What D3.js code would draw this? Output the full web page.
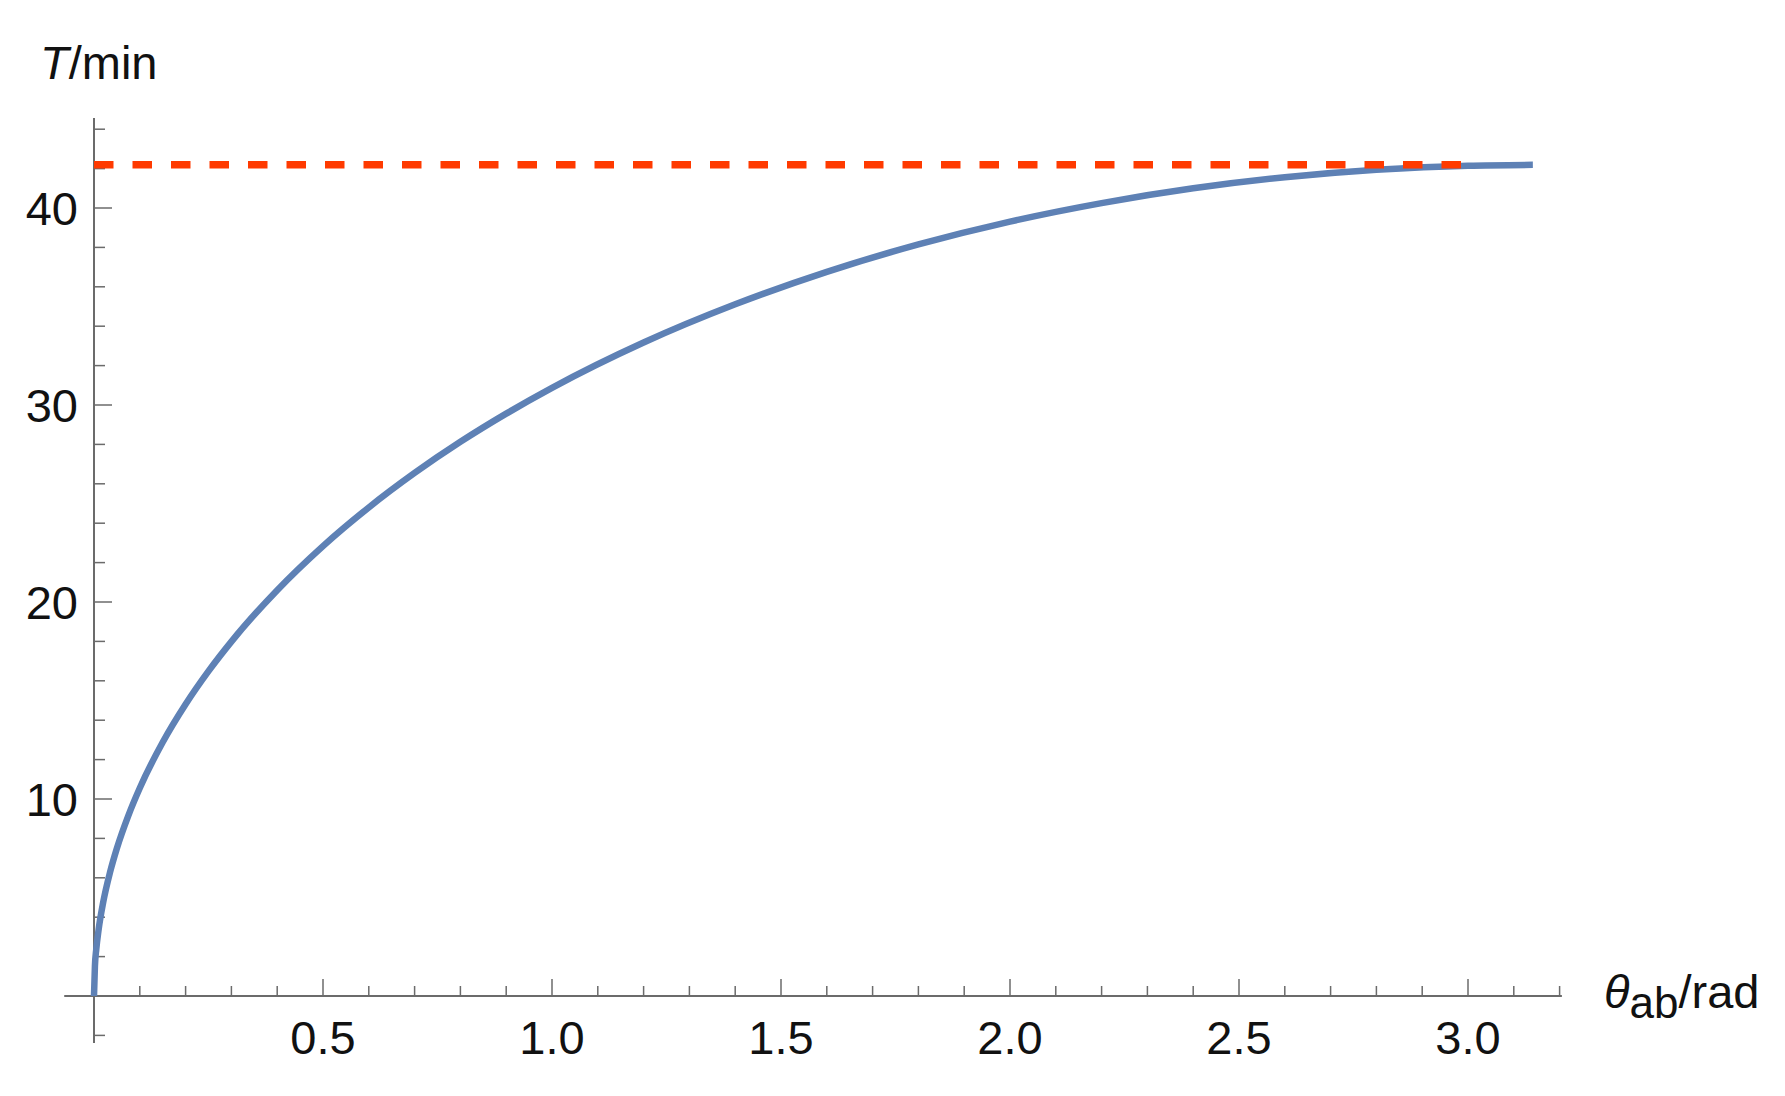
<!DOCTYPE html>
<html><head><meta charset="utf-8">
<script src="https://cdn.jsdelivr.net/npm/d3@7"></script>
<style>html,body{margin:0;padding:0;background:#fff;}svg{display:block;}</style>
</head><body>
<svg id="c" width="1785" height="1096"></svg>
<script>
// Data
const theta = [0, 0.002, 0.005, 0.01, 0.02, 0.035, 0.05, 0.075, 0.1, 0.15, 0.2, 0.25, 0.3, 0.4, 0.5, 0.6, 0.7, 0.8, 0.9, 1.0, 1.2, 1.4, 1.6, 1.8, 2.0, 2.2, 2.4, 2.6, 2.8, 3.0, 3.1416];
const T     = [0, 1.51, 2.38, 3.36, 4.75, 6.28, 7.50, 9.16, 10.56, 12.88, 14.81, 16.49, 17.99, 20.60, 22.84, 24.80, 26.55, 28.13, 29.56, 30.87, 33.17, 35.11, 36.76, 38.15, 39.31, 40.25, 41.00, 41.56, 41.94, 42.15, 42.19];
const limitT = 42.2;
const limitTheta = [0, 3.0];
const xMajor = [0.5, 1.0, 1.5, 2.0, 2.5, 3.0];
const xMajorLabels = ["0.5", "1.0", "1.5", "2.0", "2.5", "3.0"];
const yMajor = [10, 20, 30, 40];
const yMajorLabels = ["10", "20", "30", "40"];
const xExtent = [-0.065, 3.205];
const yExtent = [-2.39, 44.57];

const svg = d3.select("#c");
const x = d3.scaleLinear().domain([0, 3]).range([94, 1468]);
const y = d3.scaleLinear().domain([0, 40]).range([996, 208]);

const axisColor = "#6b6b6b";
const font = "'Liberation Sans', Arial, sans-serif";

const xMinor = d3.range(1, 33).map(i => i / 10).filter(v => Math.abs(v * 2 - Math.round(v * 2)) > 1e-6);
const yMinor = d3.range(-2, 45, 2).filter(v => v % 10 !== 0);

// axes lines
svg.append("line").attr("x1", x(xExtent[0])).attr("x2", x(xExtent[1]))
  .attr("y1", y(0)).attr("y2", y(0)).attr("stroke", axisColor).attr("stroke-width", 2);
svg.append("line").attr("x1", x(0)).attr("x2", x(0))
  .attr("y1", y(yExtent[0])).attr("y2", y(yExtent[1])).attr("stroke", axisColor).attr("stroke-width", 2);

// x ticks
svg.append("g").selectAll("line").data(xMinor).join("line")
  .attr("x1", d => x(d)).attr("x2", d => x(d)).attr("y1", y(0)).attr("y2", y(0) - 10)
  .attr("stroke", axisColor).attr("stroke-width", 1.5);
svg.append("g").selectAll("line").data(xMajor).join("line")
  .attr("x1", d => x(d)).attr("x2", d => x(d)).attr("y1", y(0)).attr("y2", y(0) - 17)
  .attr("stroke", axisColor).attr("stroke-width", 1.5);
svg.append("g").selectAll("text").data(xMajor).join("text")
  .attr("x", d => x(d)).attr("y", y(0) + 58).attr("text-anchor", "middle")
  .attr("font-family", font).attr("font-size", 47).attr("fill", "#111")
  .text((d, i) => xMajorLabels[i]);

// y ticks
svg.append("g").selectAll("line").data(yMinor).join("line")
  .attr("x1", x(0)).attr("x2", x(0) + 11).attr("y1", d => y(d)).attr("y2", d => y(d))
  .attr("stroke", axisColor).attr("stroke-width", 1.5);
svg.append("g").selectAll("line").data(yMajor).join("line")
  .attr("x1", x(0)).attr("x2", x(0) + 18).attr("y1", d => y(d)).attr("y2", d => y(d))
  .attr("stroke", axisColor).attr("stroke-width", 1.5);
svg.append("g").selectAll("text").data(yMajor).join("text")
  .attr("x", 78).attr("y", d => y(d) + 17).attr("text-anchor", "end")
  .attr("font-family", font).attr("font-size", 47).attr("fill", "#111")
  .text((d, i) => yMajorLabels[i]);

// curve
const pts = theta.map((t, i) => [t, T[i]]);
svg.append("path").datum(pts)
  .attr("d", d3.line().x(d => x(d[0])).y(d => y(d[1])).curve(d3.curveMonotoneX))
  .attr("fill", "none").attr("stroke", "#5e81b5").attr("stroke-width", 6.5)
  .attr("stroke-linecap", "butt");

// dashed limit line
svg.append("path").datum(limitTheta.map(t => [t, limitT]))
  .attr("d", d3.line().x(d => x(d[0])).y(d => y(d[1])))
  .attr("fill", "none").attr("stroke", "#ff3a00").attr("stroke-width", 7.5)
  .attr("stroke-dasharray", "19.5 19");

// axis titles
const yt = svg.append("text").attr("x", 40).attr("y", 79)
  .attr("font-family", font).attr("font-size", 47).attr("fill", "#111");
yt.append("tspan").attr("font-style", "italic").text("T");
yt.append("tspan").text("/min");

const xt = svg.append("text").attr("x", 1604).attr("y", 1008)
  .attr("font-family", font).attr("font-size", 47).attr("fill", "#111");
xt.append("tspan").attr("font-style", "italic").text("θ");
xt.append("tspan").attr("dy", 10).attr("font-size", 44).text("ab");
xt.append("tspan").attr("dy", -10).text("/rad");
</script>
</body></html>
